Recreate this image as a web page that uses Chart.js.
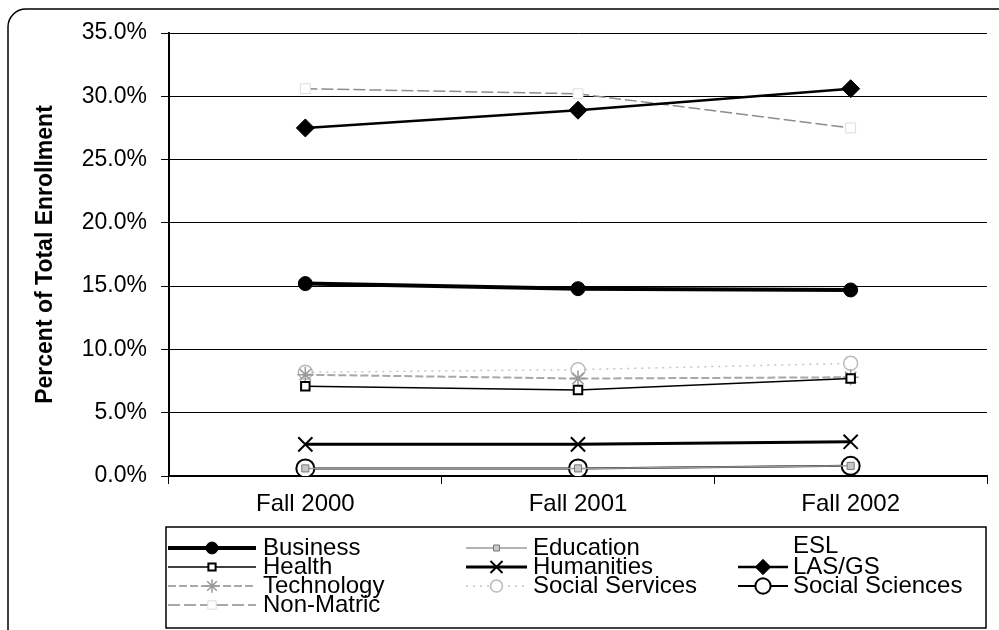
<!DOCTYPE html>
<html>
<head>
<meta charset="utf-8">
<script src="https://cdn.jsdelivr.net/npm/chart.js@4.4.0/dist/chart.umd.min.js"></script>
<style>
  html, body { margin: 0; padding: 0; background: #fff; }
  #wrap { width: 999px; height: 630px; position: relative; }
</style>
</head>
<body>
<div id="wrap"><canvas id="enrollChart" width="999" height="630"></canvas></div>
<script>
// data (percent of total enrollment)
const terms = ["Fall 2000", "Fall 2001", "Fall 2002"];
const business = [15.2, 14.8, 14.7];
const education = [0.6, 0.6, 0.8];
const esl = [7.9, 7.7, 8.1];
const health = [7.1, 6.8, 7.7];
const humanities = [2.5, 2.5, 2.7];
const lasgs = [27.5, 28.9, 30.6];
const technology = [8.0, 7.7, 7.8];
const socialServices = [8.2, 8.4, 8.9];
const socialSciences = [0.6, 0.6, 0.8];
const nonMatric = [30.6, 30.2, 27.5];
const yTickValues = [0, 5, 10, 15, 20, 25, 30, 35];

const FONT = "'Liberation Sans', Arial, sans-serif";
const NARROW = "'Liberation Sans Narrow', 'Liberation Sans', Arial, sans-serif";

const datasets = [
  { label: "Business", data: business, borderColor: "#000", borderWidth: 4,
    pointStyle: "circle", pointRadius: 7, pointBackgroundColor: "#000", pointBorderColor: "#000", pointBorderWidth: 1 },
  { label: "Education", data: education, borderColor: "#9a9a9a", borderWidth: 1.5,
    pointStyle: "rect", pointRadius: 5, pointBackgroundColor: "#c8c8c8", pointBorderColor: "#777", pointBorderWidth: 1 },
  { label: "ESL", data: esl, borderColor: "rgba(255,255,255,0)", borderWidth: 1,
    pointRadius: 0, pointStyle: false },
  { label: "Health", data: health, borderColor: "#000", borderWidth: 1.5,
    pointStyle: "rect", pointRadius: 6, pointBackgroundColor: "#fff", pointBorderColor: "#000", pointBorderWidth: 2 },
  { label: "Humanities", data: humanities, borderColor: "#000", borderWidth: 3,
    pointStyle: "crossRot", pointRadius: 10, pointBorderColor: "#000", pointBorderWidth: 2 },
  { label: "LAS/GS", data: lasgs, borderColor: "#000", borderWidth: 2.5,
    pointStyle: "rectRot", pointRadius: 9, pointBackgroundColor: "#000", pointBorderColor: "#000", pointBorderWidth: 1 },
  { label: "Technology", data: technology, borderColor: "#a8a8a8", borderWidth: 2, borderDash: [8, 3],
    pointStyle: "star", pointRadius: 8, pointBorderColor: "#999", pointBorderWidth: 1.5 },
  { label: "Social Services", data: socialServices, borderColor: "#c4c4c4", borderWidth: 1.5, borderDash: [2, 5],
    pointStyle: "circle", pointRadius: 7, pointBackgroundColor: "#fff", pointBorderColor: "#bbb", pointBorderWidth: 1.5 },
  { label: "Social Sciences", data: socialSciences, borderColor: "#000", borderWidth: 2,
    pointStyle: "circle", pointRadius: 9, pointBackgroundColor: "#fff", pointBorderColor: "#000", pointBorderWidth: 2 },
  { label: "Non-Matric", data: nonMatric, borderColor: "#8c8c8c", borderWidth: 1.5, borderDash: [12, 4],
    pointStyle: "rect", pointRadius: 7, pointBackgroundColor: "#fff", pointBorderColor: "#ddd", pointBorderWidth: 1 }
];
datasets.forEach(d => { d.fill = false; d.tension = 0; d.backgroundColor = d.pointBackgroundColor || "transparent"; });

// outer rounded frame, only left and top edges show in the picture
const framePlugin = {
  id: "frame",
  beforeDraw(chart) {
    const ctx = chart.ctx;
    ctx.save();
    ctx.fillStyle = "#fff";
    ctx.fillRect(0, 0, chart.width, chart.height);
    const x = 8, y = 9, r = 18;
    ctx.beginPath();
    ctx.moveTo(x, chart.height + 2);
    ctx.lineTo(x, y + r);
    ctx.arcTo(x, y, x + r, y, r);
    ctx.lineTo(chart.width + 2, y);
    ctx.lineWidth = 1.5;
    ctx.strokeStyle = "#000";
    ctx.stroke();
    ctx.restore();
  }
};

// three-column legend box like the Excel one
const gridLegend = {
  id: "gridLegend",
  afterDraw(chart) {
    const ctx = chart.ctx;
    const cols = [
      { x0: 168, x1: 256, tx: 263 },
      { x0: 466, x1: 527, tx: 533 },
      { x0: 738, x1: 788, tx: 793 }
    ];
    const rowY = [548, 567, 586, 605];
    ctx.save();
    ctx.lineWidth = 1.5;
    ctx.strokeStyle = "#000";
    ctx.strokeRect(166, 527, 820, 101);
    chart.data.datasets.forEach((ds, i) => {
      const col = cols[i % 3];
      const y = rowY[Math.floor(i / 3)];
      ctx.save();
      ctx.setLineDash(ds.borderDash || []);
      ctx.strokeStyle = ds.borderColor;
      ctx.lineWidth = ds.borderWidth;
      ctx.beginPath();
      ctx.moveTo(col.x0, y);
      ctx.lineTo(col.x1, y);
      ctx.stroke();
      ctx.setLineDash([]);
      if (ds.pointStyle && ds.pointRadius > 0) {
        ctx.fillStyle = ds.pointBackgroundColor || "#fff";
        ctx.strokeStyle = ds.pointBorderColor || ds.borderColor;
        ctx.lineWidth = ds.pointBorderWidth;
        Chart.helpers.drawPoint(ctx, {
          pointStyle: ds.pointStyle, radius: ds.pointRadius * 0.85,
          borderWidth: ds.pointBorderWidth, rotation: 0
        }, (col.x0 + col.x1) / 2, y);
      }
      ctx.restore();
      ctx.fillStyle = "#000";
      ctx.font = "24px " + NARROW;
      ctx.textBaseline = "middle";
      ctx.textAlign = "left";
      ctx.fillText(ds.label, col.tx, i === 2 ? y - 2 : y);
    });
    ctx.restore();
  }
};

new Chart(document.getElementById("enrollChart").getContext("2d"), {
  type: "line",
  data: { labels: terms, datasets: datasets },
  options: {
    responsive: false,
    devicePixelRatio: 1,
    animation: false,
    layout: { padding: { top: 33, right: 2, left: 0, bottom: 0 } },
    plugins: {
      legend: { display: false },
      tooltip: { enabled: false }
    },
    scales: {
      x: {
        type: "category",
        offset: true,
        grid: { drawOnChartArea: false, drawTicks: true, tickLength: 8, color: "#000", offset: true },
        border: { color: "#000", width: 2 },
        ticks: { color: "#000", font: { family: NARROW, size: 24 }, padding: 6 },
        afterFit(scale) { scale.height = 154; }
      },
      y: {
        min: 0,
        max: 35,
        afterBuildTicks(scale) { scale.ticks = yTickValues.map(v => ({ value: v })); },
        grid: { color: "#000", lineWidth: 1, tickLength: 8, tickColor: "#000" },
        border: { color: "#000", width: 2 },
        ticks: {
          color: "#000",
          font: { family: FONT, size: 23 },
          padding: 14,
          callback: v => v.toFixed(1) + "%"
        },
        title: {
          display: true,
          text: "Percent of Total Enrollment",
          color: "#000",
          font: { family: FONT, size: 23, weight: "bold" },
          padding: { top: 32, bottom: 0 }
        },
        afterFit(scale) { scale.width = 169; }
      }
    }
  },
  plugins: [framePlugin, gridLegend]
});
</script>
</body>
</html>
